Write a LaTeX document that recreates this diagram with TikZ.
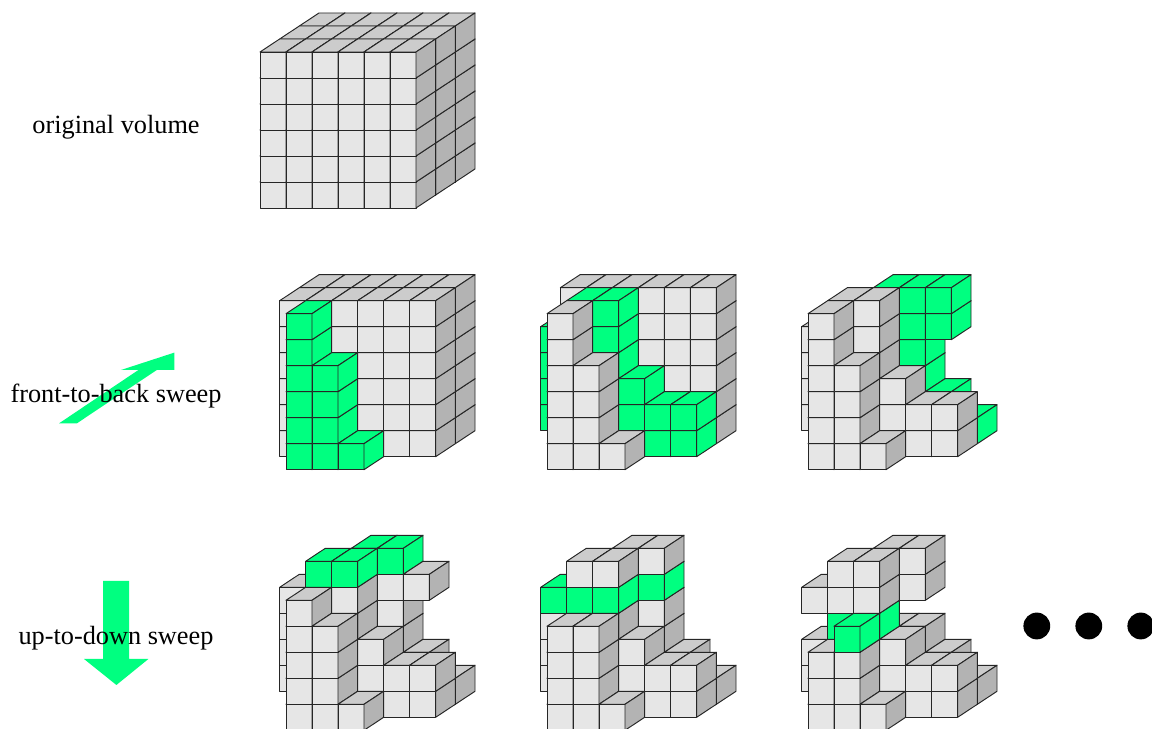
\documentclass[tikz,border=0pt]{standalone}
\usepackage{fontspec}
\setmainfont{Liberation Serif}
\definecolor{sweepgreen}{RGB}{0, 255, 128}
\definecolor{voxfront}{RGB}{230, 230, 230}
\definecolor{voxtop}{RGB}{204, 204, 204}
\definecolor{voxside}{RGB}{179, 179, 179}
\newcommand{\voxel}[6]{%
    % Front face
    \filldraw[voxel line, fill=#4] (#1,#2,#3) -- ++(1,0,0) -- ++(0,1,0) -- ++(-1,0,0) -- cycle;
    % Top face
    \filldraw[voxel line, fill=#5] (#1,{#2+1},#3) -- ++(1,0,0) -- ++(0,0,1) -- ++(-1,0,0) -- cycle;
    % Right face
    \filldraw[voxel line, fill=#6] ({#1+1},#2,#3) -- ++(0,0,1) -- ++(0,1,0) -- ++(0,0,-1) -- cycle;
}
% depth, column, list of heights
\newcommand{\graycol}[3]{%
    \foreach \k in {#3} {\voxel{#2}{\k}{#1}{voxfront}{voxtop}{voxside}}
}
\newcommand{\greencol}[3]{%
    \foreach \k in {#3} {\voxel{#2}{\k}{#1}{sweepgreen}{sweepgreen}{sweepgreen}}
}
\newcommand{\fullslab}[1]{%
    \foreach \i in {0,...,5} {\graycol{#1}{\i}{0,...,5}}
}

\begin{document}
\begin{tikzpicture}[
    voxel line/.style={draw=black!85, line width=0.68pt, line join=round},
    sweep label/.style={font=\fontsize{18.7}{22}\selectfont, text=black},
    sweep arrow/.style={fill=sweepgreen},
    big dot/.style={fill=black},
    volume/.style={x=0.65cm, y=0.65cm, z={(0.4917cm,0.325cm)}}
]
\useasboundingbox (0,0) rectangle (28.8,18.225);
\clip (0,0) rectangle (28.8,18.225);

% =============================================
% Sweep arrows (behind the labels)
% =============================================
\fill[sweep arrow] (4.36,9.41) -- (4.36,8.975) -- (3.92,8.975) -- (1.92,7.64)
    -- (1.475,7.64) -- (3.46,8.975) -- (3.025,8.975) -- cycle;
\fill[sweep arrow] (2.58,3.70) -- (3.23,3.70) -- (3.23,1.75) -- (3.71,1.75)
    -- (2.91,1.10) -- (2.10,1.75) -- (2.58,1.75) -- cycle;

% =============================================
% Labels
% =============================================
\node[sweep label] (labeloriginal) at (2.9,15.05) {original volume};
\node[sweep label] (labelfront) at (2.9,8.32) {front-to-back sweep};
\node[sweep label] (labelup) at (2.9,2.27) {up-to-down sweep};

% =============================================
% TOP ROW: original volume
% =============================================
\begin{scope}[shift={(6.5,13.025)}, volume]
    \fullslab{2}
    \fullslab{1}
    \fullslab{0}
\end{scope}

% =============================================
% MIDDLE ROW: front-to-back sweep
% =============================================

% First slice
\begin{scope}[shift={(6.5,6.4825)}, volume]
    \fullslab{2}
    \fullslab{1}
    \greencol{0}{1}{0,...,5}
    \greencol{0}{2}{0,...,3}
    \greencol{0}{3}{0}
\end{scope}

% Second slice
\begin{scope}[shift={(13.025,6.4825)}, volume]
    \fullslab{2}
    \greencol{1}{0}{1,...,4}
    \greencol{1}{1}{1,...,5}
    \greencol{1}{2}{1,...,5}
    \greencol{1}{3}{1,2}
    \greencol{1}{4}{0,1}
    \greencol{1}{5}{0,1}
    \graycol{0}{1}{0,...,5}
    \graycol{0}{2}{0,...,3}
    \graycol{0}{3}{0}
\end{scope}

% Third slice
\begin{scope}[shift={(19.55,6.4825)}, volume]
    \greencol{2}{2}{2,...,5}
    \greencol{2}{3}{2,...,5}
    \greencol{2}{4}{0,1,4,5}
    \greencol{2}{5}{0}
    \graycol{1}{0}{1,...,4}
    \graycol{1}{1}{1,...,5}
    \graycol{1}{2}{1,...,5}
    \graycol{1}{3}{1,2}
    \graycol{1}{4}{0,1}
    \graycol{1}{5}{0,1}
    \graycol{0}{1}{0,...,5}
    \graycol{0}{2}{0,...,3}
    \graycol{0}{3}{0}
\end{scope}

% =============================================
% BOTTOM ROW: up-to-down sweep
% =============================================

% First level
\begin{scope}[shift={(6.5,-0.0325)}, volume]
    \greencol{2}{2}{5}
    \graycol{2}{3}{2,3,4}
    \greencol{2}{3}{5}
    \graycol{2}{4}{0,1,4}
    \graycol{2}{5}{0}
    \graycol{1}{0}{1,...,4}
    \graycol{1}{1}{1,...,4}
    \greencol{1}{1}{5}
    \graycol{1}{2}{1,...,4}
    \greencol{1}{2}{5}
    \graycol{1}{3}{1,2}
    \graycol{1}{4}{0,1}
    \graycol{1}{5}{0,1}
    \graycol{0}{1}{0,...,4}
    \graycol{0}{2}{0,...,3}
    \graycol{0}{3}{0}
\end{scope}

% Second level
\begin{scope}[shift={(13.025,-0.0325)}, volume]
    \graycol{2}{2}{5}
    \graycol{2}{3}{2,3}
    \greencol{2}{3}{4}
    \graycol{2}{3}{5}
    \graycol{2}{4}{0,1}
    \graycol{2}{5}{0}
    \graycol{1}{0}{1,2,3}
    \greencol{1}{0}{4}
    \graycol{1}{1}{1,2,3}
    \greencol{1}{1}{4}
    \graycol{1}{1}{5}
    \graycol{1}{2}{1,2,3}
    \greencol{1}{2}{4}
    \graycol{1}{2}{5}
    \graycol{1}{3}{1,2}
    \graycol{1}{4}{0,1}
    \graycol{1}{5}{0,1}
    \graycol{0}{1}{0,...,3}
    \graycol{0}{2}{0,...,3}
    \graycol{0}{3}{0}
\end{scope}

% Third level
\begin{scope}[shift={(19.55,-0.0325)}, volume]
    \graycol{2}{2}{2,5}
    \graycol{2}{3}{2,4,5}
    \graycol{2}{4}{0,1}
    \graycol{2}{5}{0}
    \graycol{1}{0}{1,2,4}
    \graycol{1}{1}{1,2}
    \greencol{1}{1}{3}
    \graycol{1}{1}{4,5}
    \graycol{1}{2}{1,2}
    \greencol{1}{2}{3}
    \graycol{1}{2}{4,5}
    \graycol{1}{3}{1,2}
    \graycol{1}{4}{0,1}
    \graycol{1}{5}{0,1}
    \graycol{0}{1}{0,1,2}
    \graycol{0}{2}{0,1,2}
    \greencol{0}{2}{3}
    \graycol{0}{3}{0}
\end{scope}

% Continuation dots
\foreach \x in {25.92,27.22,28.52}
    \fill[big dot] (\x,2.575) circle (0.335);

\end{tikzpicture}
\end{document}
